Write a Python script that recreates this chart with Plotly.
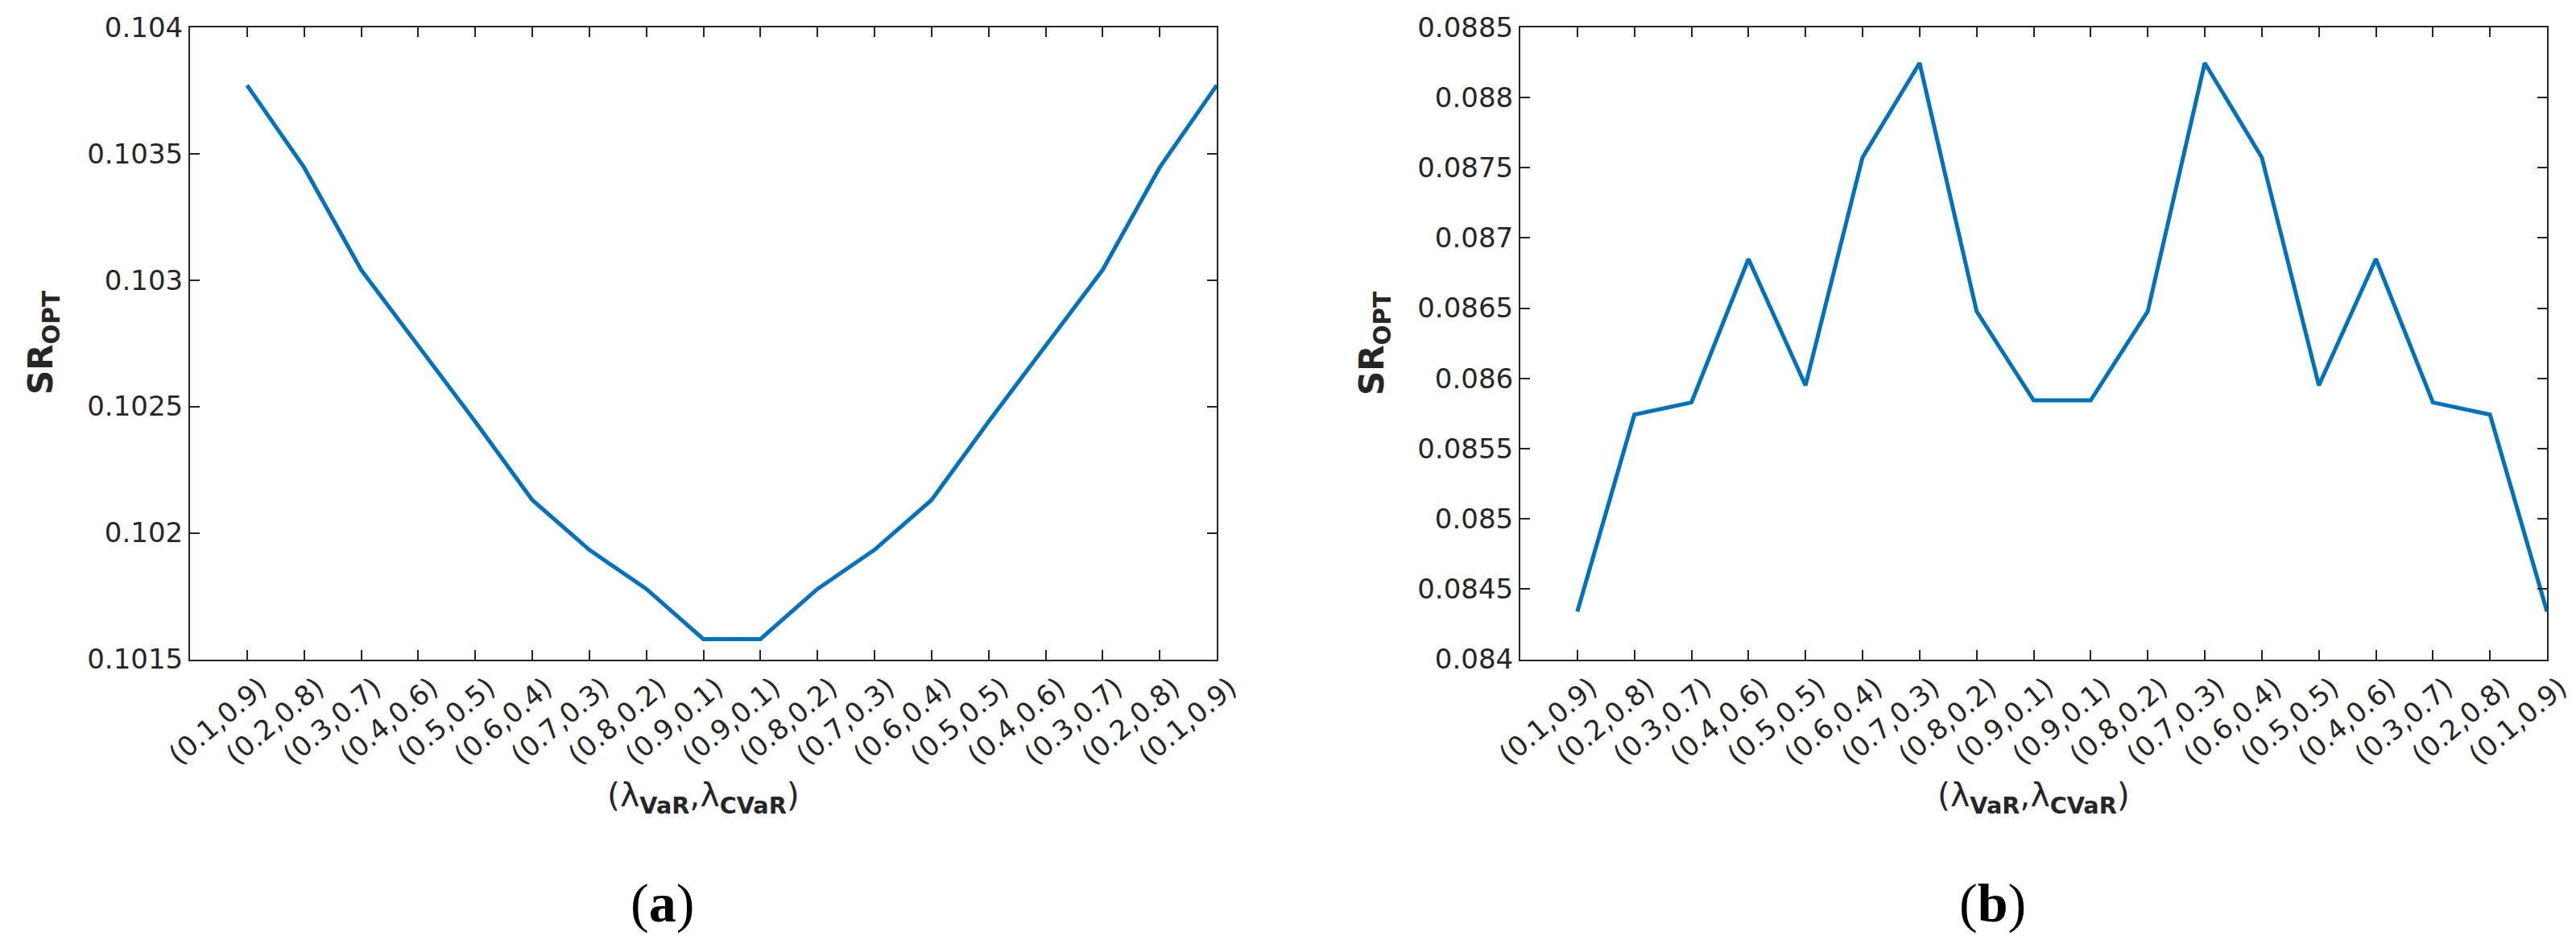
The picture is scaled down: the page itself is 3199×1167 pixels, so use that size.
import plotly.graph_objects as go

# ---------------- data ----------------
categories = ["(0.1,0.9)", "(0.2,0.8)", "(0.3,0.7)", "(0.4,0.6)", "(0.5,0.5)", "(0.6,0.4)",
              "(0.7,0.3)", "(0.8,0.2)", "(0.9,0.1)", "(0.9,0.1)", "(0.8,0.2)", "(0.7,0.3)",
              "(0.6,0.4)", "(0.5,0.5)", "(0.4,0.6)", "(0.3,0.7)", "(0.2,0.8)", "(0.1,0.9)"]
x_index = list(range(1, 19))

sr_a = [0.10377, 0.103445, 0.10304, 0.102742, 0.10244, 0.10213, 0.101933, 0.101778, 0.10158,
        0.10158, 0.101778, 0.101933, 0.10213, 0.10244, 0.102742, 0.10304, 0.103445, 0.10377]
sr_b = [0.08434, 0.085742, 0.085828, 0.08685, 0.08595, 0.087573, 0.088245, 0.086477, 0.085843,
        0.085843, 0.086477, 0.088245, 0.087573, 0.08595, 0.08685, 0.085828, 0.085742, 0.08434]

yticks_a = [0.1015, 0.102, 0.1025, 0.103, 0.1035, 0.104]
yticklabels_a = ["0.1015", "0.102", "0.1025", "0.103", "0.1035", "0.104"]
yticks_b = [0.084, 0.0845, 0.085, 0.0855, 0.086, 0.0865, 0.087, 0.0875, 0.088, 0.0885]
yticklabels_b = ["0.084", "0.0845", "0.085", "0.0855", "0.086", "0.0865", "0.087", "0.0875", "0.088", "0.0885"]

# ---------------- layout constants ----------------
W, H = 3199, 1167
AX = "#262626"
LINE = "#0072BD"
FONT = "DejaVu Sans"

def px_x(p):
    return p / W

def px_y(p):
    return (H - p) / H

top, bottom = 25.7, 810.5
ydom = [px_y(bottom), px_y(top)]
xdom_a = [px_x(228), px_x(1503)]
xdom_b = [px_x(1880), px_x(3155)]

fig = go.Figure()
fig.add_trace(go.Scatter(x=x_index, y=sr_a, mode="lines", line=dict(color=LINE, width=5),
                         xaxis="x", yaxis="y", showlegend=False))
fig.add_trace(go.Scatter(x=x_index, y=sr_b, mode="lines", line=dict(color=LINE, width=5),
                         xaxis="x2", yaxis="y2", showlegend=False))

common = dict(showline=True, linecolor=AX, linewidth=2, mirror="ticks", ticks="inside",
              ticklen=12, tickwidth=2, tickcolor=AX, showgrid=False, zeroline=False,
              automargin=False)

xcommon = dict(common, range=[0, 18], tickmode="array", tickvals=x_index, ticktext=categories,
               tickangle=-40, ticklabelshift=16,
               tickfont=dict(family=FONT, size=34, color=AX))
ycommon = dict(common, tickmode="array", tickfont=dict(family=FONT, size=34, color=AX))

fig.update_layout(
    width=W, height=H,
    margin=dict(l=0, r=0, t=0, b=0, autoexpand=False),
    paper_bgcolor="white", plot_bgcolor="white",
    xaxis=dict(xcommon, domain=xdom_a, anchor="y"),
    yaxis=dict(ycommon, domain=ydom, anchor="x", range=[0.1015, 0.104],
               tickvals=yticks_a, ticktext=yticklabels_a),
    xaxis2=dict(xcommon, domain=xdom_b, anchor="y2"),
    yaxis2=dict(ycommon, domain=ydom, anchor="x2", range=[0.084, 0.0885],
                tickvals=yticks_b, ticktext=yticklabels_b),
)

ytitle = "<b>SR<sub>OPT</sub></b>"
xtitle = "(λ<sub><b>VaR</b></sub>,λ<sub><b>CVaR</b></sub>)"
anns = []
for cx, ylab_x, tag in [((228 + 1503) / 2, 45, "a"), ((1880 + 3155) / 2, 1698, "b")]:
    anns.append(dict(x=px_x(ylab_x), y=px_y(418), xref="paper", yref="paper", text=ytitle,
                     textangle=-90, showarrow=False, xanchor="center", yanchor="middle",
                     font=dict(family=FONT, size=42, color=AX)))
    anns.append(dict(x=px_x(cx), y=px_y(982), xref="paper", yref="paper", text=xtitle,
                     showarrow=False, xanchor="center", yanchor="middle",
                     font=dict(family=FONT, size=41, color=AX)))
    anns.append(dict(x=px_x(cx - 51), y=px_y(1113), xref="paper", yref="paper",
                     text="(<b>%s</b>)" % tag, showarrow=False, xanchor="center", yanchor="middle",
                     font=dict(family="Liberation Serif", size=68, color="black")))
fig.update_layout(annotations=anns)

fig.write_html("out.html")
